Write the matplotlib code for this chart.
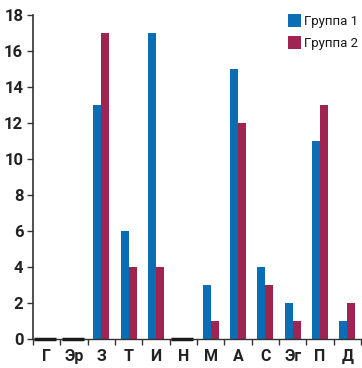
import matplotlib
matplotlib.use("Agg")
import matplotlib.pyplot as plt
import numpy as np

categories = ["Г", "Эр", "З", "Т", "И", "Н", "М", "А", "С", "Эг", "П", "Д"]
group1 = [0, 0, 13, 6, 17, 0, 3, 15, 4, 2, 11, 1]
group2 = [0, 0, 17, 4, 4, 0, 1, 12, 3, 1, 13, 2]
series_names = ["Группа 1", "Группа 2"]
yticks = [0, 2, 4, 6, 8, 10, 12, 14, 16, 18]

c1 = "#0b6db3"
c2 = "#a02452"

plt.rcParams['font.family'] = ['Roboto', 'DejaVu Sans']

W, H = 362, 368
fig = plt.figure(figsize=(W/100, H/100), dpi=100)
ax = fig.add_axes([33/W, 1-339/H, (361-33)/W, (339-15)/H])

x = np.arange(len(categories))
bw = 0.29
ax.bar(x - bw/2, group1, bw, color=c1, label=series_names[0])
ax.bar(x + bw/2, group2, bw, color=c2, label=series_names[1])

# zero-valued categories drawn as a thick dark line at the baseline
for i in x:
    if group1[i] == 0 and group2[i] == 0:
        ax.hlines(0, i - 0.45, i + 0.35, color='#1a1a1a', lw=2.5, zorder=4, clip_on=False)

ax.set_xlim(-0.5, len(categories) - 0.5)
ax.set_ylim(0, 18)
ax.set_yticks(yticks)
ax.set_yticklabels([str(v) for v in yticks], fontsize=12, fontweight='bold', color='#222222')
ax.set_xticks(x)
ax.set_xticklabels(categories, fontsize=11.5, fontweight='bold', color='#222222')
ax.tick_params(axis='x', which='major', length=0, pad=7)
ax.set_xticks(np.arange(len(categories) + 1) - 0.5, minor=True)
ax.tick_params(axis='x', which='minor', length=4, width=1, color='#333333', direction='out')
ax.tick_params(axis='y', length=4, width=1, color='#333333', direction='out', pad=3)

for s in ['top', 'right']:
    ax.spines[s].set_visible(False)
ax.spines['left'].set_color('#333333')
ax.spines['left'].set_linewidth(1.2)
ax.spines['bottom'].set_color('#333333')
ax.spines['bottom'].set_linewidth(1)

leg = fig.legend(loc='upper left', bbox_to_anchor=(283/W, 1-9/H), frameon=False,
                 handlelength=0.95, handleheight=1.15, handletextpad=0.25,
                 labelspacing=0.6, fontsize=9.5, borderaxespad=0)
for t in leg.get_texts():
    t.set_color('#1a1a1a')

fig.savefig("out.png", dpi=100)
